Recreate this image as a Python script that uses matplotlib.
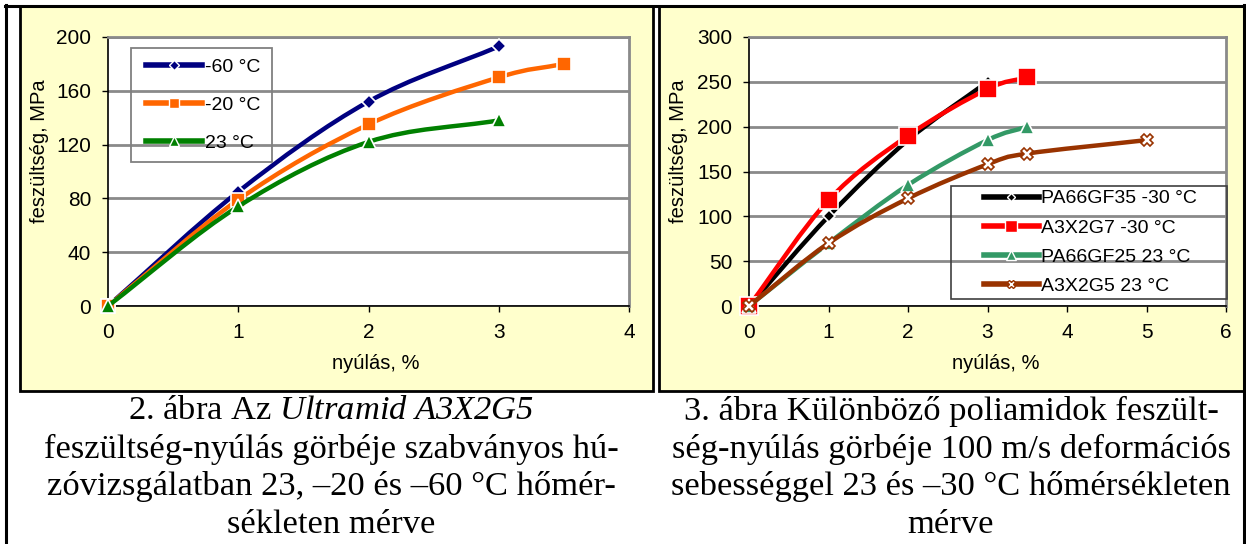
import matplotlib
matplotlib.use('Agg')
import matplotlib.pyplot as plt
from matplotlib.path import Path
from matplotlib.patches import PathPatch, Rectangle
from matplotlib.lines import Line2D
import numpy as np

plt.rcParams['font.family'] = ['Liberation Sans', 'DejaVu Sans']
# only mathtext in the file is the italic product name in the caption
plt.rcParams['mathtext.fontset'] = 'custom'
plt.rcParams['mathtext.rm'] = 'Liberation Serif:italic'
plt.rcParams['mathtext.it'] = 'Liberation Serif:italic'

W, H = 1246, 544

# --- 2. ábra: Ultramid A3X2G5 at three temperatures ---
strain_m60 = [0, 1, 2, 3]
stress_m60 = [0, 85, 152, 193]
strain_m20 = [0, 1, 2, 3, 3.5]
stress_m20 = [0, 79, 135, 170, 180]
strain_p23 = [0, 1, 2, 3]
stress_p23 = [0, 74, 122, 138]
labels_left = ['-60 °C', '-20 °C', '23 °C']

# --- 3. ábra: polyamides at 100 m/s ---
strain_gf35 = [0, 1, 2, 3]
stress_gf35 = [0, 100, 185, 250]
strain_g7 = [0, 1, 2, 3, 3.5]
stress_g7 = [0, 118, 190, 242, 255]
strain_gf25 = [0, 1, 2, 3, 3.5]
stress_gf25 = [0, 70, 135, 185, 200]
strain_g5 = [0, 1, 2, 3, 3.5, 5]
stress_g5 = [0, 70, 120, 158, 170, 185]
labels_right = ['PA66GF35 -30 °C', 'A3X2G7 -30 °C', 'PA66GF25 23 °C', 'A3X2G5 23 °C']

caption_left = ['2. ábra Az $\\mathrm{Ultramid\\ A3X2G5}$',
                'feszültség-nyúlás görbéje szabványos hú-',
                'zóvizsgálatban 23, –20 és –60 °C hőmér-',
                'sékleten mérve']
caption_right = ['3. ábra Különböző poliamidok feszült-',
                 'ség-nyúlás görbéje 100 m/s deformációs',
                 'sebességgel 23 és –30 °C hőmérsékleten',
                 'mérve']


def fx(x):
    return x / W


def fy(y):
    return 1 - y / H


def smooth_path(x, y):
    # Excel-like smoothed line: Catmull-Rom segments as cubic Beziers
    p = np.column_stack([x, y]).astype(float)
    tang = np.zeros_like(p)
    tang[1:-1] = (p[2:] - p[:-2]) / 2
    tang[0] = p[1] - p[0]
    tang[-1] = p[-1] - p[-2]
    verts = [p[0]]
    codes = [Path.MOVETO]
    for i in range(len(p) - 1):
        verts += [p[i] + tang[i] / 3, p[i + 1] - tang[i + 1] / 3, p[i + 1]]
        codes += [Path.CURVE4] * 3
    return Path(verts, codes)


def style_axes(ax, xmax, ymax, ystep):
    ax.set_facecolor('white')
    ax.set_xlim(0, xmax)
    ax.set_ylim(0, ymax)
    ax.set_xticks(range(0, xmax + 1))
    ax.set_yticks(range(0, ymax + 1, ystep))
    ax.yaxis.grid(True, color='#8a8a8a', lw=2)
    ax.set_axisbelow(True)
    for s in ['top', 'right']:
        ax.spines[s].set_color('#8a8a8a')
        ax.spines[s].set_linewidth(2)
    for s in ['left', 'bottom']:
        ax.spines[s].set_color('black')
        ax.spines[s].set_linewidth(1.2)
    ax.tick_params(direction='out', length=4, width=1, labelsize=15, pad=8)
    ax.set_xlabel('nyúlás, %', fontsize=14.5)
    ax.set_ylabel('feszültség, MPa', fontsize=14.5)


def marker_edge(marker, color):
    return color if marker == 'X' else 'white'


def marker_face(marker, color):
    return 'white' if marker == 'X' else color


def draw_series(ax, x, y, color, marker, ms, z):
    ax.add_patch(PathPatch(smooth_path(x, y), fill=False, edgecolor=color,
                           lw=3.2, capstyle='round', zorder=z))
    ax.plot(x, y, ls='none', marker=marker, ms=ms,
            mfc=marker_face(marker, color), mec=marker_edge(marker, color),
            mew=1.2, zorder=z + 0.05, clip_on=False)


fig = plt.figure(figsize=(W / 100, H / 100), dpi=100)
fig.patch.set_facecolor('white')

# table lines and yellow chart panels
fig.add_artist(Line2D([fx(6), fx(6)], [fy(5), 0], color='black', lw=2.2))
fig.add_artist(Line2D([fx(1244), fx(1244)], [fy(5), 0], color='black', lw=2.2))
fig.add_artist(Line2D([fx(5), fx(1245)], [fy(6), fy(6)], color='black', lw=2.2))
for x0, x1 in [(20, 653), (659, 1244)]:
    fig.add_artist(Rectangle((fx(x0), fy(391)), fx(x1 - x0), (391 - 6) / H,
                             facecolor='#FFFFCC', edgecolor='black', lw=2,
                             zorder=0))

# left chart
ax1 = fig.add_axes([fx(108), fy(306), fx(629 - 108), (306 - 37) / H])
style_axes(ax1, 4, 200, 40)
left_series = [(strain_m60, stress_m60, '#000080', 'D', 7),
               (strain_m20, stress_m20, '#FF6600', 's', 10),
               (strain_p23, stress_p23, '#008000', '^', 10)]
for i, (x, y, c, m, ms) in enumerate(left_series):
    draw_series(ax1, x, y, c, m, ms, 3 + i * 0.1)
ax1.xaxis.set_label_coords(0.514, -0.212)
ax1.yaxis.set_label_coords(-0.132, 0.576)
ax1.xaxis.label.set_va('center')
ax1.yaxis.label.set_va('center')

handles = [Line2D([], [], color=c, lw=4, marker=m, ms=ms * 0.75,
                  mfc=marker_face(m, c), mec=marker_edge(m, c), mew=1)
           for (x, y, c, m, ms) in left_series]
fig.legend(handles, labels_left, loc='center left', frameon=False,
           bbox_to_anchor=(fx(136), fy(105)), fontsize=14, borderpad=0,
           handlelength=2.9, handletextpad=0.15, labelspacing=1.06)
fig.add_artist(Rectangle((fx(131), fy(162)), fx(272 - 131), (162 - 48) / H,
                         fill=False, edgecolor='#808080', lw=1.3, zorder=5))

# right chart
ax2 = fig.add_axes([fx(749), fy(306), fx(1226 - 749), (306 - 37) / H])
style_axes(ax2, 6, 300, 50)
right_series = [(strain_gf35, stress_gf35, 'black', 'D', 6),
                (strain_g7, stress_g7, '#FF0000', 's', 13),
                (strain_gf25, stress_gf25, '#339966', '^', 10),
                (strain_g5, stress_g5, '#993300', 'X', 9)]
for i, (x, y, c, m, ms) in enumerate(right_series):
    draw_series(ax2, x, y, c, m, ms, 3 + i * 0.1)
ax2.xaxis.set_label_coords(0.518, -0.212)
ax2.yaxis.set_label_coords(-0.147, 0.576)
ax2.xaxis.label.set_va('center')
ax2.yaxis.label.set_va('center')

handles = [Line2D([], [], color=c, lw=4, marker=m, ms=ms * 0.7,
                  mfc=marker_face(m, c), mec=marker_edge(m, c), mew=1)
           for (x, y, c, m, ms) in right_series]
fig.legend(handles, labels_right, loc='center left', frameon=False,
           bbox_to_anchor=(fx(974), fy(242.5)), fontsize=14, borderpad=0,
           handlelength=2.85, handletextpad=0.1, labelspacing=0.6)
fig.add_artist(Rectangle((fx(951), fy(299)), fx(1227 - 951), (299 - 186) / H,
                         fill=False, edgecolor='#404040', lw=1.2, zorder=5))

# captions
for cx, lines in [(331, caption_left), (951, caption_right)]:
    for k, line in enumerate(lines):
        fig.text(fx(cx), fy(411 + k * 38), line, ha='center', va='center',
                 fontsize=24.8, family='Liberation Serif')

fig.savefig('out.png', dpi=100)
